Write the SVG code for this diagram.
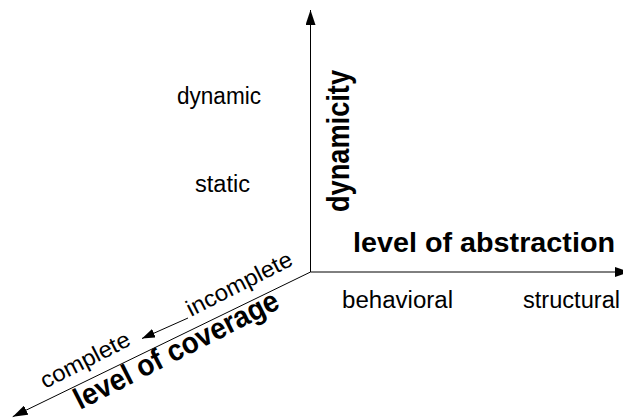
<svg xmlns="http://www.w3.org/2000/svg" width="623" height="419" viewBox="0 0 623 419">
  <style>
    .axis { stroke: #000; stroke-width: 1; fill: none; }
    .lbl { font-family: "Liberation Sans", Arial, sans-serif; font-size: 23px; fill: #000; }
    .title { font-family: "Liberation Sans", Arial, sans-serif; font-size: 28px; font-weight: bold; fill: #000; }
  </style>
  <defs>
    <marker id="head" viewBox="0 0 15 10" refX="15" refY="5" markerWidth="15" markerHeight="10" markerUnits="userSpaceOnUse" orient="auto">
      <path d="M0,0 L15,5 L0,10 z" fill="#000"/>
    </marker>
    <marker id="headSmall" viewBox="0 0 13 9" refX="13" refY="4.5" markerWidth="13" markerHeight="9" markerUnits="userSpaceOnUse" orient="auto">
      <path d="M0,0 L13,4.5 L0,9 z" fill="#000"/>
    </marker>
  </defs>

  <!-- three axes from a common origin -->
  <g id="connectors">
    <line class="axis" x1="310.5" y1="272" x2="310.5" y2="10" marker-end="url(#head)"/>
    <line class="axis" x1="310.5" y1="272" x2="630" y2="272" marker-end="url(#head)"/>
    <line class="axis" x1="310.5" y1="272" x2="12.7" y2="416.7" marker-end="url(#head)"/>
    <line class="axis" x1="188" y1="318" x2="142" y2="338.5" marker-end="url(#headSmall)"/>
  </g>

  <!-- vertical axis: dynamicity -->
  <g id="dynamicity">
    <text class="title" style="font-size:31px" transform="translate(349,212) rotate(-90)" textLength="142" lengthAdjust="spacingAndGlyphs">dynamicity</text>
    <text class="lbl" x="177" y="104" textLength="84" lengthAdjust="spacingAndGlyphs">dynamic</text>
    <text class="lbl" x="195" y="192" textLength="55" lengthAdjust="spacingAndGlyphs">static</text>
  </g>

  <!-- horizontal axis: level of abstraction -->
  <g id="abstraction">
    <text class="title" x="353" y="252" textLength="262" lengthAdjust="spacingAndGlyphs">level of abstraction</text>
    <text class="lbl" x="342" y="308" textLength="111" lengthAdjust="spacingAndGlyphs">behavioral</text>
    <text class="lbl" x="523" y="308" textLength="97" lengthAdjust="spacingAndGlyphs">structural</text>
  </g>

  <!-- diagonal axis: level of coverage -->
  <g id="coverage">
    <text class="lbl" transform="translate(191,317) rotate(-27)" textLength="116" lengthAdjust="spacingAndGlyphs">incomplete</text>
    <text class="lbl" transform="translate(45,389) rotate(-27)" textLength="98" lengthAdjust="spacingAndGlyphs">complete</text>
    <text class="title" style="font-size:30px" transform="translate(80,410) rotate(-27)" textLength="226" lengthAdjust="spacingAndGlyphs">level of coverage</text>
  </g>
</svg>
